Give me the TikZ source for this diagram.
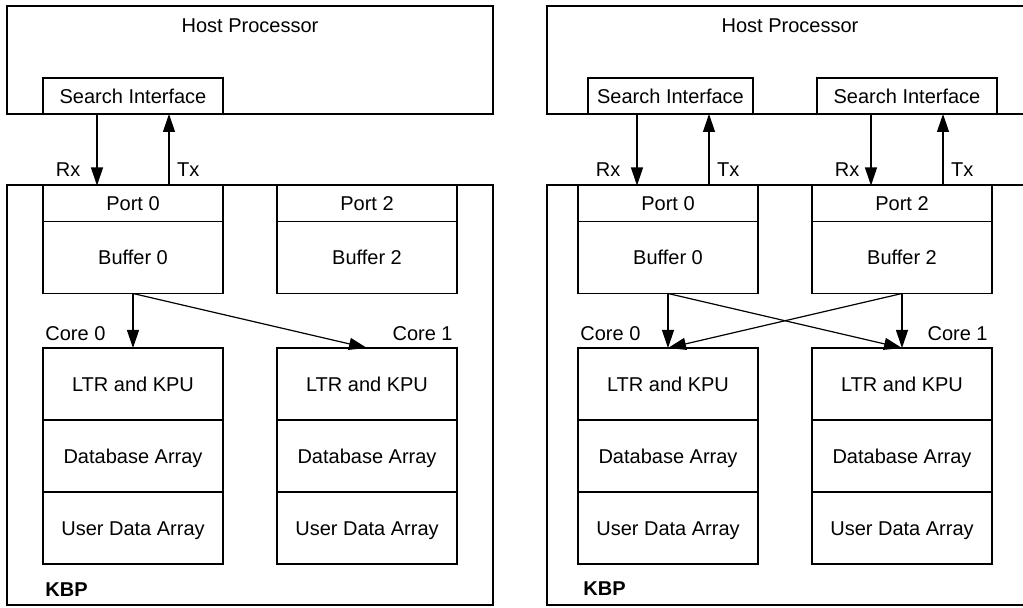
\documentclass[tikz,border=0pt]{standalone}
\usepackage{fontspec}
\setmainfont{Liberation Sans}
\usetikzlibrary{arrows.meta,positioning}
\tikzset{
  box/.style={draw, line width=0.6pt, inner sep=0pt, outer sep=0pt, minimum width=90pt,
    text height=7.2pt, text depth=0pt},
  slim/.style={box, minimum height=18pt},
  tall/.style={box, minimum height=36pt},
  frame/.style={box, minimum width=243pt},
  arr/.style={-{Triangle[length=9pt,width=6pt]}, line width=0.6pt},
  rxlbl/.style={left, inner sep=0pt, xshift=-8pt},
  txlbl/.style={right, inner sep=0pt, xshift=3.75pt},
  corel/.style={anchor=south west, inner xsep=1pt, inner ysep=3.5pt},
  corer/.style={anchor=south east, inner xsep=2pt, inner ysep=3.5pt},
  hostlbl/.style={label={[anchor=north,yshift=-2.7pt]north:Host Processor}}
}

\begin{document}
\begin{tikzpicture}[x=0.5pt, y=-0.5pt, node distance=27pt]
\useasboundingbox (0,0) rectangle (1023,608);
\clip (0,0) rectangle (1023,608);

% one port shared by both cores
\node[frame, minimum height=54pt, hostlbl] (host) at (250,60) {};
\node[slim] (si0) at (133,96) {Search Interface};
\node[frame, minimum height=210pt] (kbp) at (250,395) {};
\node[slim] (port0) at (133,203.5) {Port 0};
\node[tall] (buf0) [below=0pt of port0] {Buffer 0};
\node[slim] (port2) [right=of port0] {Port 2};
\node[tall] (buf2) [below=0pt of port2] {Buffer 2};
\node[tall] (ltr0) at (133,384) {LTR and KPU};
\node[tall] (db0) [below=0pt of ltr0] {Database Array};
\node[tall] (usr0) [below=0pt of db0] {User Data Array};
\node[tall] (ltr1) [right=of ltr0] {LTR and KPU};
\node[tall] (db1) [below=0pt of ltr1] {Database Array};
\node[tall] (usr1) [below=0pt of db1] {User Data Array};
\node[corel] (core0) at (ltr0.north west) {Core 0};
\node[corer] (core1) at (ltr1.north east) {Core 1};
\node[anchor=west, inner sep=0pt, font=\bfseries] (kbplbl) at (45,590) {KBP};
\coordinate (rx0) at ([xshift=-18pt]port0.north);
\coordinate (tx0) at ([xshift=18pt]port0.north);
\path[arr]
  (rx0 |- si0.south) edge node[rxlbl, pos=.78] {Rx} (rx0)
  (tx0) edge node[txlbl, pos=.22] {Tx} (tx0 |- si0.south)
  (buf0.south) edge (ltr0.north)
               edge (ltr1.north);

% two ports, crossed to both cores
\node[frame, minimum height=54pt, hostlbl] (hostr) at (790,60) {};
\node[slim, minimum width=82.5pt] (si0r) at (670.5,96) {Search Interface};
\node[slim] (si2r) at (907,96) {Search Interface};
\node[frame, minimum height=210pt] (kbpr) at (790,395) {};
\node[slim] (port0r) at (668,203.5) {Port 0};
\node[tall] (buf0r) [below=0pt of port0r] {Buffer 0};
\node[slim] (port2r) [right=of port0r] {Port 2};
\node[tall] (buf2r) [below=0pt of port2r] {Buffer 2};
\node[tall] (ltr0r) at (668,384) {LTR and KPU};
\node[tall] (db0r) [below=0pt of ltr0r] {Database Array};
\node[tall] (usr0r) [below=0pt of db0r] {User Data Array};
\node[tall] (ltr1r) [right=of ltr0r] {LTR and KPU};
\node[tall] (db1r) [below=0pt of ltr1r] {Database Array};
\node[tall] (usr1r) [below=0pt of db1r] {User Data Array};
\node[corel] (core0r) at (ltr0r.north west) {Core 0};
\node[corer] (core1r) at (ltr1r.north east) {Core 1};
\node[anchor=west, inner sep=0pt, font=\bfseries] (kbplblr) at (583,589) {KBP};
\coordinate (rx0r) at ([xshift=-15.5pt]port0r.north);
\coordinate (tx0r) at ([xshift=20.5pt]port0r.north);
\coordinate (rx2r) at ([xshift=-15.5pt]port2r.north);
\coordinate (tx2r) at ([xshift=20.5pt]port2r.north);
\path[arr]
  (rx0r |- si0r.south) edge node[rxlbl, pos=.78] {Rx} (rx0r)
  (tx0r) edge node[txlbl, pos=.22] {Tx} (tx0r |- si0r.south)
  (rx2r |- si2r.south) edge node[rxlbl, pos=.78, xshift=2.5pt] {Rx} (rx2r)
  (tx2r) edge node[txlbl, pos=.22] {Tx} (tx2r |- si2r.south)
  (buf0r.south) edge (ltr0r.north)
                edge (ltr1r.north)
  (buf2r.south) edge (ltr1r.north)
                edge (ltr0r.north);
\end{tikzpicture}
\end{document}
